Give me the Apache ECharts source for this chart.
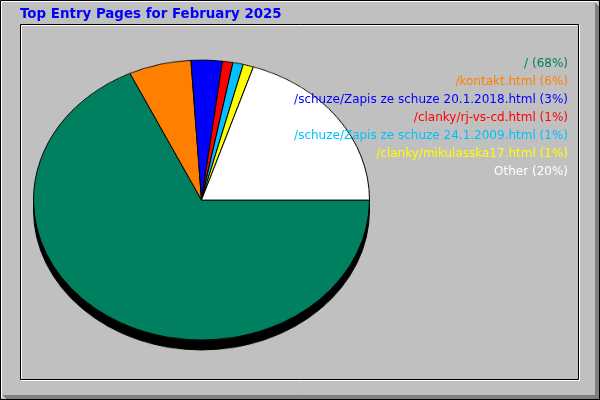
<!DOCTYPE html>
<html>
<head>
<meta charset="utf-8">
<script src="https://cdn.jsdelivr.net/npm/echarts@6/dist/echarts.min.js"></script>
<style>
html,body{margin:0;padding:0;background:#C0C0C0;}
#wrap{position:relative;width:600px;height:400px;background:#C0C0C0;overflow:hidden;}
#pie{position:absolute;left:0;top:0;width:600px;height:400px;transform:scaleY(0.8333);transform-origin:0 200px;}
#fg{position:absolute;left:0;top:0;width:600px;height:400px;}
</style>
</head>
<body>
<div id="wrap"><div id="pie"></div><div id="fg"></div></div>
<script>
// ---- data ----
var titleText = 'Top Entry Pages for February 2025';
var pages = ['/', '/kontakt.html', '/schuze/Zapis ze schuze 20.1.2018.html', '/clanky/rj-vs-cd.html', '/schuze/Zapis ze schuze 24.1.2009.html', '/clanky/mikulasska17.html', 'Other'];
var percents = [68, 6, 3, 1, 1, 1, 20];
var colors = ['#008060', '#FF8000', '#0000FF', '#FF0000', '#00C0FF', '#FFFF00', '#FFFFFF'];

// ---- pie (drawn in circle space, squashed to ellipse by CSS) ----
var pieChart = echarts.init(document.getElementById('pie'), null, {renderer: 'canvas'});
var sliceData = pages.map(function (p, i) {
  return {name: p, value: percents[i], itemStyle: {color: colors[i]}};
});
var depthData = pages.map(function (p, i) {
  return {name: p, value: percents[i]};
});
pieChart.setOption({
  animation: false,
  series: [
    {
      type: 'pie', silent: true, z: 1,
      center: [201.5, 212], radius: 168,
      startAngle: 0, clockwise: true,
      label: {show: false}, labelLine: {show: false},
      itemStyle: {color: '#000000', borderColor: '#000000', borderWidth: 1},
      data: depthData
    },
    {
      type: 'pie', silent: true, z: 2,
      center: [201.5, 200], radius: 168,
      startAngle: 0, clockwise: true,
      label: {show: false}, labelLine: {show: false},
      itemStyle: {borderColor: '#000000', borderWidth: 1},
      data: sliceData
    }
  ]
});

// ---- frame, title, legend texts ----
var fg = echarts.init(document.getElementById('fg'), null, {renderer: 'canvas'});
var g = [];
function line(x1, y1, x2, y2, c) {
  g.push({type: 'line', silent: true, shape: {x1: x1, y1: y1, x2: x2, y2: y2}, style: {stroke: c, lineWidth: 1}});
}
// outer border
line(0.5, 0.5, 599.5, 0.5, '#000');
line(0.5, 0.5, 0.5, 399.5, '#000');
line(599.5, 0, 599.5, 400, '#000');
line(0, 399.5, 600, 399.5, '#000');
line(1, 1.5, 598, 1.5, '#FFF');
line(1.5, 1, 1.5, 398, '#FFF');
for (var k = 0; k < 4; k++) {
  line(595.5 + k, 3 + k, 595.5 + k, 399, '#808080');
  line(3 + k, 395.5 + k, 599, 395.5 + k, '#808080');
}
// inner frame
line(20.5, 24.5, 578.5, 24.5, '#000');
line(20.5, 24.5, 20.5, 379.5, '#000');
line(578.5, 24.5, 578.5, 379.5, '#000');
line(20.5, 379.5, 578.5, 379.5, '#000');
line(21.5, 25.5, 577.5, 25.5, '#FFF');
line(21.5, 25.5, 21.5, 378.5, '#FFF');
line(579.5, 25, 579.5, 380.5, '#FFF');
line(21, 380.5, 580, 380.5, '#FFF');
// title
g.push({type: 'text', silent: true, x: 20, y: 15, style: {
  text: titleText, fill: '#0000FF', font: 'bold 13.4px "DejaVu Sans"', textAlign: 'left', textVerticalAlign: 'middle'
}});
// legend texts
pages.forEach(function (p, i) {
  g.push({type: 'text', silent: true, x: 568, y: 64 + 18 * i, style: {
    text: p + ' (' + percents[i] + '%)', fill: colors[i], font: '12px "DejaVu Sans"', textAlign: 'right', textVerticalAlign: 'middle'
  }});
});
fg.setOption({animation: false, graphic: {elements: g}});
</script>
</body>
</html>
